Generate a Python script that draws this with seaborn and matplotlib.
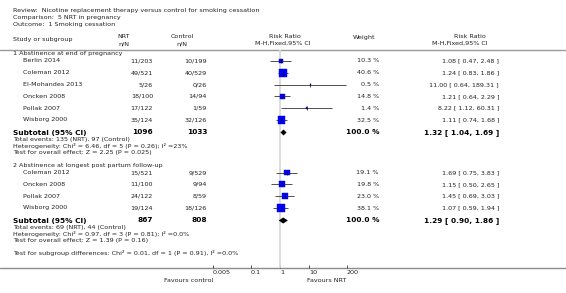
import numpy as np
import pandas as pd
import matplotlib
matplotlib.use('Agg')
import matplotlib.pyplot as plt
import seaborn as sns

# Header text
title_lines = ['Review:  Nicotine replacement therapy versus control for smoking cessation',
               'Comparison:  5 NRT in pregnancy',
               'Outcome:  1 Smoking cessation']

# Subgroup 1
g1_name = '1 Abstinence at end of pregnancy'
g1_studies = ['Berlin 2014', 'Coleman 2012', 'El-Mohandes 2013', 'Oncken 2008', 'Pollak 2007', 'Wisborg 2000']
g1_nrt = ['11/203', '49/521', '5/26', '18/100', '17/122', '35/124']
g1_ctrl = ['10/199', '40/529', '0/26', '14/94', '1/59', '32/126']
g1_weight = [10.3, 40.6, 0.5, 14.8, 1.4, 32.5]
g1_rr = [1.08, 1.24, 11.00, 1.21, 8.22, 1.11]
g1_lo = [0.47, 0.83, 0.64, 0.64, 1.12, 0.74]
g1_hi = [2.48, 1.86, 189.31, 2.29, 60.31, 1.68]
g1_total = ['1096', '1033']
g1_pooled = [1.32, 1.04, 1.69]
g1_stats = ['Total events: 135 (NRT), 97 (Control)',
            'Heterogeneity: Chi² = 6.46, df = 5 (P = 0.26); I² =23%',
            'Test for overall effect: Z = 2.25 (P = 0.025)']

# Subgroup 2
g2_name = '2 Abstinence at longest post partum follow-up'
g2_studies = ['Coleman 2012', 'Oncken 2008', 'Pollak 2007', 'Wisborg 2000']
g2_nrt = ['15/521', '11/100', '24/122', '19/124']
g2_ctrl = ['9/529', '9/94', '8/59', '18/126']
g2_weight = [19.1, 19.8, 23.0, 38.1]
g2_rr = [1.69, 1.15, 1.45, 1.07]
g2_lo = [0.75, 0.50, 0.69, 0.59]
g2_hi = [3.83, 2.65, 3.03, 1.94]
g2_total = ['867', '808']
g2_pooled = [1.29, 0.90, 1.86]
g2_stats = ['Total events: 69 (NRT), 44 (Control)',
            'Heterogeneity: Chi² = 0.97, df = 3 (P = 0.81); I² =0.0%',
            'Test for overall effect: Z = 1.39 (P = 0.16)']

subgroup_test = 'Test for subgroup differences: Chi² = 0.01, df = 1 (P = 0.91), I² =0.0%'

ticks = [0.005, 0.1, 1, 10, 200]
tick_labels = ['0.005', '0.1', '1', '10', '200']

sns.set_theme(style='white')
plt.rcParams['font.family'] = ['DejaVu Sans']

W, H = 566, 293
fig = plt.figure(figsize=(W / 100, H / 100), dpi=100)

# Layout axes in pixel units
tax = fig.add_axes([0, 0, 1, 1])
tax.set_xlim(0, W)
tax.set_ylim(H, 0)
tax.axis('off')

# Forest axes: log scale, y shares pixel rows
x0, x1 = 213, 347
fax = fig.add_axes([x0 / W, 0, (x1 - x0) / W, 1])
fax.set_xscale('log')
fax.set_xlim(ticks[0], ticks[-1])
fax.set_ylim(H, 0)
fax.patch.set_alpha(0)

FS = 4.6
FSB = 5.3
TC = '#222222'

def txt(x, y, s, ha='left', bold=False):
    tax.text(x, y, s, ha=ha, va='center', color=TC if not bold else 'black',
             fontsize=FSB if bold else FS, fontweight='bold' if bold else 'normal')

# Title and column headers
for i, line in enumerate(title_lines):
    txt(13, 10.5 + i * 6.8, line)
txt(13, 39, 'Study or subgroup')
txt(124, 37, 'NRT', ha='center'); txt(124, 43.5, 'n/N', ha='center')
txt(182, 37, 'Control', ha='center'); txt(182, 43.5, 'n/N', ha='center')
txt(285, 37, 'Risk Ratio', ha='center'); txt(283, 43.5, 'M-H,Fixed,95% CI', ha='center')
txt(364, 37, 'Weight', ha='center')
txt(470, 37, 'Risk Ratio', ha='center'); txt(460, 43.5, 'M-H,Fixed,95% CI', ha='center')
tax.plot([0, W], [49.5, 49.5], color='#999999', lw=1.0)

step = 11.8
rows = []
pooled_rows = []

def draw_group(y, name, studies, nrt, ctrl, weight, rr, lo, hi, total, pooled, stats):
    txt(13, y, name)
    y += 7
    for i in range(len(studies)):
        yy = y + i * step
        txt(23, yy, studies[i])
        txt(153, yy, nrt[i], ha='right')
        txt(207, yy, ctrl[i], ha='right')
        txt(379, yy, f'{weight[i]:.1f} %', ha='right')
        txt(499, yy, f'{rr[i]:.2f} [ {lo[i]:.2f}, {hi[i]:.2f} ]', ha='right')
        rows.append(dict(rr=rr[i], lo=lo[i], hi=hi[i], weight=weight[i], y=yy))
    ys = y + len(studies) * step + 0.7
    txt(13, ys, 'Subtotal (95% CI)', bold=True)
    txt(153, ys, total[0], ha='right', bold=True)
    txt(207, ys, total[1], ha='right', bold=True)
    txt(379, ys, '100.0 %', ha='right', bold=True)
    txt(499, ys, f'{pooled[0]:.2f} [ {pooled[1]:.2f}, {pooled[2]:.2f} ]', ha='right', bold=True)
    pooled_rows.append(dict(rr=pooled[0], lo=pooled[1], hi=pooled[2], y=ys))
    for j, s in enumerate(stats):
        txt(13, ys + 7 + j * 6.3, s)
    return ys + 7 + 2 * 6.3

end1 = draw_group(54, g1_name, g1_studies, g1_nrt, g1_ctrl, g1_weight, g1_rr, g1_lo, g1_hi,
                  g1_total, g1_pooled, g1_stats)
end2 = draw_group(end1 + 13.5, g2_name, g2_studies, g2_nrt, g2_ctrl, g2_weight, g2_rr, g2_lo, g2_hi,
                  g2_total, g2_pooled, g2_stats)
txt(13, end2 + 13, subgroup_test)

df = pd.DataFrame(rows)
pdf = pd.DataFrame(pooled_rows)

# Reference line at 1
axis_y = 268
fax.vlines(1, 50, axis_y, color='#d9d9d9', lw=1.3, zorder=1)

# Confidence intervals, squares and centre ticks
fax.hlines(df['y'], df['lo'], df['hi'], color='#333333', lw=0.6, zorder=2)
k = 0.9
sns.scatterplot(data=df, x='rr', y='y', size='weight', sizes=(df.weight.min() * k, df.weight.max() * k),
                size_norm=(df.weight.min(), df.weight.max()), marker='s', color='#0000ff',
                edgecolor='#0000cc', linewidth=0.3, legend=False, ax=fax, zorder=3)
fax.scatter(df['rr'], df['y'], marker='|', s=6, color='black', lw=0.5, zorder=4)

# Pooled diamonds
for _, r in pdf.iterrows():
    fax.fill([r.lo, r.rr, r.hi, r.rr], [r.y, r.y - 3, r.y, r.y + 3], color='black', lw=0, zorder=3)

# Bottom axis
for side in ['top', 'left', 'right']:
    fax.spines[side].set_visible(False)
fax.spines['bottom'].set_position(('data', axis_y))
fax.spines['bottom'].set_visible(False)
tax.plot([0, W], [axis_y, axis_y], color='#8c8c8c', lw=1.0)
fax.set_xticks(ticks, labels=tick_labels)
fax.minorticks_off()
fax.tick_params(axis='x', direction='in', length=2.5, width=0.6, color='#333333', pad=1.5,
                labelsize=FS, labelcolor=TC, bottom=True)
for lbl in fax.get_xticklabels():
    lbl.set_ha('left')
fax.set_yticks([])
fax.set_xlabel('')
fax.set_ylabel('')

txt(213, 280, 'Favours control', ha='right')
txt(307, 280, 'Favours NRT')

plt.savefig('out.png', dpi=100)
plt.close()
